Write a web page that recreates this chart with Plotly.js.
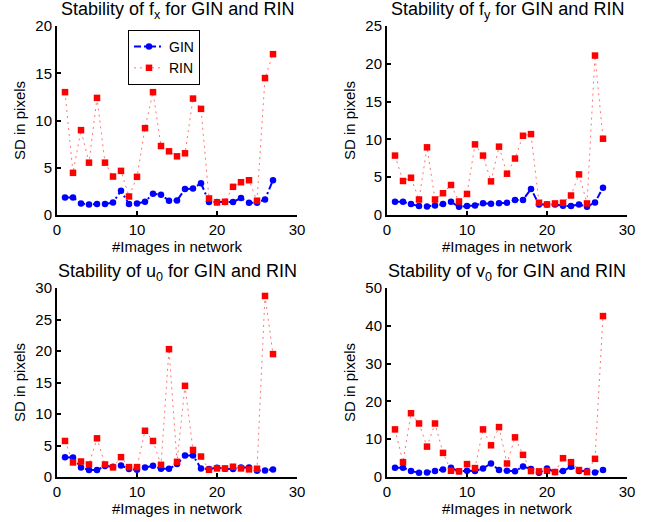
<!DOCTYPE html>
<html>
<head>
<meta charset="utf-8">
<script src="https://cdn.plot.ly/plotly-3.0.1.min.js"></script>
<style>html,body{margin:0;padding:0;background:#fff;}#chart{width:657px;height:522px;}</style>
</head>
<body>
<div id="chart"></div>
<script>
const images = [1,2,3,4,5,6,7,8,9,10,11,12,13,14,15,16,17,18,19,20,21,22,23,24,25,26,27];

const ginFx = [1.86,1.86,1.23,1.12,1.16,1.16,1.33,2.56,1.16,1.23,1.40,2.25,2.14,1.51,1.54,2.74,2.81,3.37,1.37,1.37,1.37,1.37,1.79,1.30,1.30,1.65,3.68];
const rinFx = [13.0,4.46,8.98,5.54,12.39,5.54,4.07,4.67,1.96,4.04,9.19,13.0,7.30,6.74,6.21,6.53,12.32,11.23,1.75,1.33,1.40,2.98,3.47,3.68,1.51,14.49,17.02];

const ginFy = [1.75,1.75,1.44,1.18,1.14,1.27,1.44,1.75,1.09,1.18,1.27,1.57,1.48,1.57,1.62,1.97,2.00,3.45,1.40,1.40,1.40,1.22,1.18,1.40,1.09,1.66,3.62];
const rinFy = [7.86,4.50,4.93,2.05,8.95,2.05,2.88,3.97,1.79,2.79,9.34,7.86,4.45,9.04,5.46,7.47,10.48,10.70,1.62,1.40,1.53,1.62,2.58,5.37,1.53,21.09,10.09];

const ginU0 = [3.15,3.09,1.52,1.10,1.10,1.73,1.63,1.84,1.26,1.15,1.52,1.78,1.31,1.31,2.05,3.41,3.41,1.36,1.26,1.47,1.31,1.26,1.52,1.52,1.00,1.05,1.21];
const rinU0 = [5.72,2.31,2.46,1.99,6.14,1.99,1.52,3.15,1.57,1.57,7.34,5.72,1.94,20.29,2.41,14.47,4.30,3.25,1.15,1.36,1.36,1.63,1.36,1.21,1.31,28.74,19.51];

const ginV0 = [2.45,2.45,1.57,1.14,1.22,1.57,2.01,2.45,1.49,1.66,1.57,2.27,3.58,1.84,1.66,1.49,2.80,2.10,1.14,2.27,1.31,1.57,2.71,1.57,1.57,1.22,1.84];
const rinV0 = [12.59,3.93,16.87,14.16,8.04,14.16,6.38,1.66,1.49,3.41,2.36,12.59,8.39,13.20,3.58,10.49,5.86,1.57,1.49,1.66,1.31,4.98,3.93,1.84,1.31,4.81,42.57];

const titles = ['Stability of f<sub>x</sub> for GIN and RIN','Stability of f<sub>y</sub> for GIN and RIN','Stability of u<sub>0</sub> for GIN and RIN','Stability of v<sub>0</sub> for GIN and RIN'];
const yTicks = [[0,5,10,15,20],[0,5,10,15,20,25],[0,5,10,15,20,25,30],[0,10,20,30,40,50]];
const yRanges = [[0,20],[0,25],[0,30],[0,50]];
const xTicks = [0,10,20,30];

const ginSets = [ginFx, ginFy, ginU0, ginV0];
const rinSets = [rinFx, rinFy, rinU0, rinV0];

const FONT = 'Liberation Sans, Arial, sans-serif';
const traces = [];
for (let i = 0; i < 4; i++) {
  const s = i === 0 ? '' : String(i + 1);
  traces.push({
    x: images, y: ginSets[i], name: 'GIN', type: 'scatter', mode: 'lines+markers',
    xaxis: 'x' + s, yaxis: 'y' + s, showlegend: i === 0,
    line: {color: '#0000ff', width: 2, dash: '7px,3px,2px,3px'},
    marker: {color: '#0000ff', size: 6.5, symbol: 'circle'}
  });
  traces.push({
    x: images, y: rinSets[i], name: 'RIN', type: 'scatter', mode: 'lines+markers',
    xaxis: 'x' + s, yaxis: 'y' + s, showlegend: i === 0,
    line: {color: 'rgba(255,0,0,0.55)', width: 1, dash: '2px,4px'},
    marker: {color: '#ff0000', size: 6.5, symbol: 'square'}
  });
}

const W = 657, H = 522;
const xDom = [[57/W, 297/W], [387/W, 627/W], [57/W, 297/W], [387/W, 627/W]];
const yDom = [[1-215/H, 1-26/H], [1-215/H, 1-26/H], [1-477/H, 1-288/H], [1-477/H, 1-288/H]];

const layout = {
  width: W, height: H,
  margin: {l: 0, r: 0, t: 0, b: 0},
  paper_bgcolor: '#fff', plot_bgcolor: '#fff',
  font: {family: FONT, size: 15, color: '#000'},
  legend: {x: 128/W, y: 1-30/H, xanchor: 'left', yanchor: 'top',
           bgcolor: '#fff', bordercolor: '#000', borderwidth: 1,
           itemwidth: 30,
           font: {family: FONT, size: 14, color: '#000'}, tracegroupgap: 0},
  annotations: []
};

for (let i = 0; i < 4; i++) {
  const s = i === 0 ? '' : String(i + 1);
  const ax = {
    domain: xDom[i], range: [0, 30], tickvals: xTicks, ticktext: xTicks.map(String),
    anchor: 'y' + s, showline: true, linewidth: 2, linecolor: '#000',
    ticks: 'inside', ticklen: 4, tickwidth: 2, tickcolor: '#000',
    showgrid: false, zeroline: false, mirror: false,
    tickfont: {family: FONT, size: 15, color: '#000'},
    title: {text: '#Images in network', font: {family: FONT, size: 15, color: '#000'}, standoff: 2}
  };
  const ay = {
    domain: yDom[i], range: yRanges[i], tickvals: yTicks[i], ticktext: yTicks[i].map(String),
    anchor: 'x' + s, showline: true, linewidth: 2, linecolor: '#000',
    ticks: 'inside', ticklen: 4, tickwidth: 2, tickcolor: '#000',
    showgrid: false, zeroline: false, mirror: false,
    tickfont: {family: FONT, size: 15, color: '#000'},
    title: {text: 'SD in pixels', font: {family: FONT, size: 15, color: '#000'}, standoff: 6}
  };
  layout['xaxis' + s] = ax;
  layout['yaxis' + s] = ay;
  layout.annotations.push({
    text: titles[i], xref: 'paper', yref: 'paper',
    x: (xDom[i][0] + xDom[i][1]) / 2, y: yDom[i][1] + 2/H,
    xanchor: 'center', yanchor: 'bottom', showarrow: false,
    font: {family: FONT, size: 18, color: '#000'}
  });
}

Plotly.newPlot('chart', traces, layout, {displayModeBar: false, staticPlot: true});
</script>
</body>
</html>
